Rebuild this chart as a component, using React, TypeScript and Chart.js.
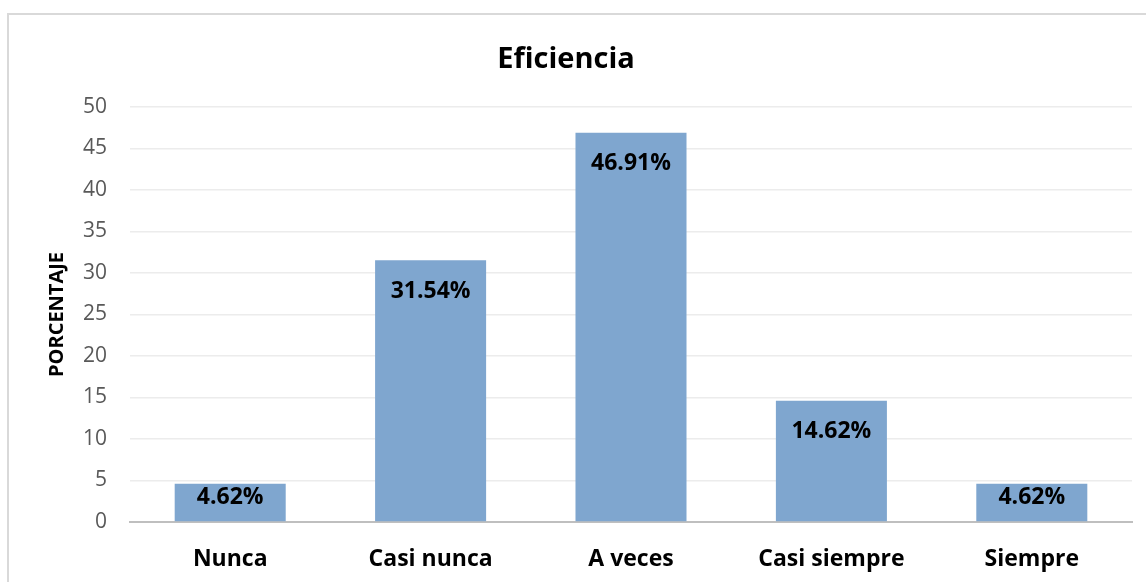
import React, { useEffect, useRef } from "react";
import { Chart, registerables } from "chart.js";

Chart.register(...registerables);

const categories = ["Nunca", "Casi nunca", "A veces", "Casi siempre", "Siempre"];
const percentages = [4.62, 31.54, 46.91, 14.62, 4.62];
const chartTitle = "Eficiencia";
const yAxisTitle = "PORCENTAJE";
const yMin = 0;
const yMax = 50;
const yStep = 5;

const FONT = "'Open Sans', sans-serif";

const dataLabelPlugin = {
  id: "dataLabels",
  afterDatasetsDraw(chart: any) {
    const ctx = chart.ctx;
    const meta = chart.getDatasetMeta(0);
    const ds = chart.data.datasets[0];
    ctx.save();
    ctx.font = `bold 23px ${FONT}`;
    ctx.fillStyle = "#000000";
    ctx.textAlign = "center";
    ctx.textBaseline = "middle";
    meta.data.forEach((bar: any, i: number) => {
      const v = ds.data[i] as number;
      const y = Math.min(bar.y + 31, bar.base - 24);
      ctx.fillText(v.toFixed(2) + "%", bar.x, y);
    });
    ctx.restore();
  },
};

export default function App() {
  const canvasRef = useRef<HTMLCanvasElement | null>(null);

  useEffect(() => {
    if (!canvasRef.current) return;
    const chart = new Chart(canvasRef.current, {
      type: "bar",
      data: {
        labels: categories,
        datasets: [
          {
            data: percentages,
            backgroundColor: "#7fa6cf",
            borderWidth: 0,
            barPercentage: 0.554,
            categoryPercentage: 1,
          },
        ],
      },
      options: {
        responsive: false,
        animation: false,
        layout: { padding: { left: 0, right: 14, top: 0, bottom: 0 } },
        plugins: {
          legend: { display: false },
          tooltip: { enabled: false },
          title: {
            display: true,
            text: chartTitle,
            color: "#000000",
            font: { family: FONT, size: 29, weight: "bold" },
            padding: { top: 42, bottom: 30.2 },
          },
        },
        scales: {
          x: {
            grid: { display: false, drawTicks: false },
            border: { display: true, color: "#bfbfbf", width: 2 },
            ticks: {
              color: "#000000",
              font: { family: FONT, size: 23, weight: "bold" },
              padding: 24,
              maxRotation: 0,
            },
            afterFit(scale: any) {
              scale.height = 60;
            },
          },
          y: {
            min: yMin,
            max: yMax,
            ticks: {
              stepSize: yStep,
              color: "#595959",
              font: { family: FONT, size: 21 },
              padding: 23,
            },
            grid: { color: "#ececec", lineWidth: 1.5, drawTicks: false },
            border: { display: false },
            title: {
              display: true,
              text: yAxisTitle,
              color: "#000000",
              font: { family: FONT, size: 20, weight: "bold" },
              padding: { top: 45, bottom: 0 },
            },
            afterFit(scale: any) {
              scale.width = 130;
            },
          },
        },
      },
      plugins: [dataLabelPlugin],
    });
    return () => chart.destroy();
  }, []);

  return (
    <div
      style={{
        position: "fixed",
        left: 0,
        top: 0,
        width: 1146,
        height: 582,
        overflow: "hidden",
        background: "#ffffff",
      }}
    >
      <div
        style={{
          position: "absolute",
          left: 7,
          top: 13,
          width: 1300,
          height: 800,
          border: "2px solid #d9d9d9",
          boxSizing: "border-box",
        }}
      />
      <canvas
        ref={canvasRef}
        width={1146}
        height={582}
        style={{ position: "absolute", left: 0, top: 0, display: "block" }}
      />
    </div>
  );
}
